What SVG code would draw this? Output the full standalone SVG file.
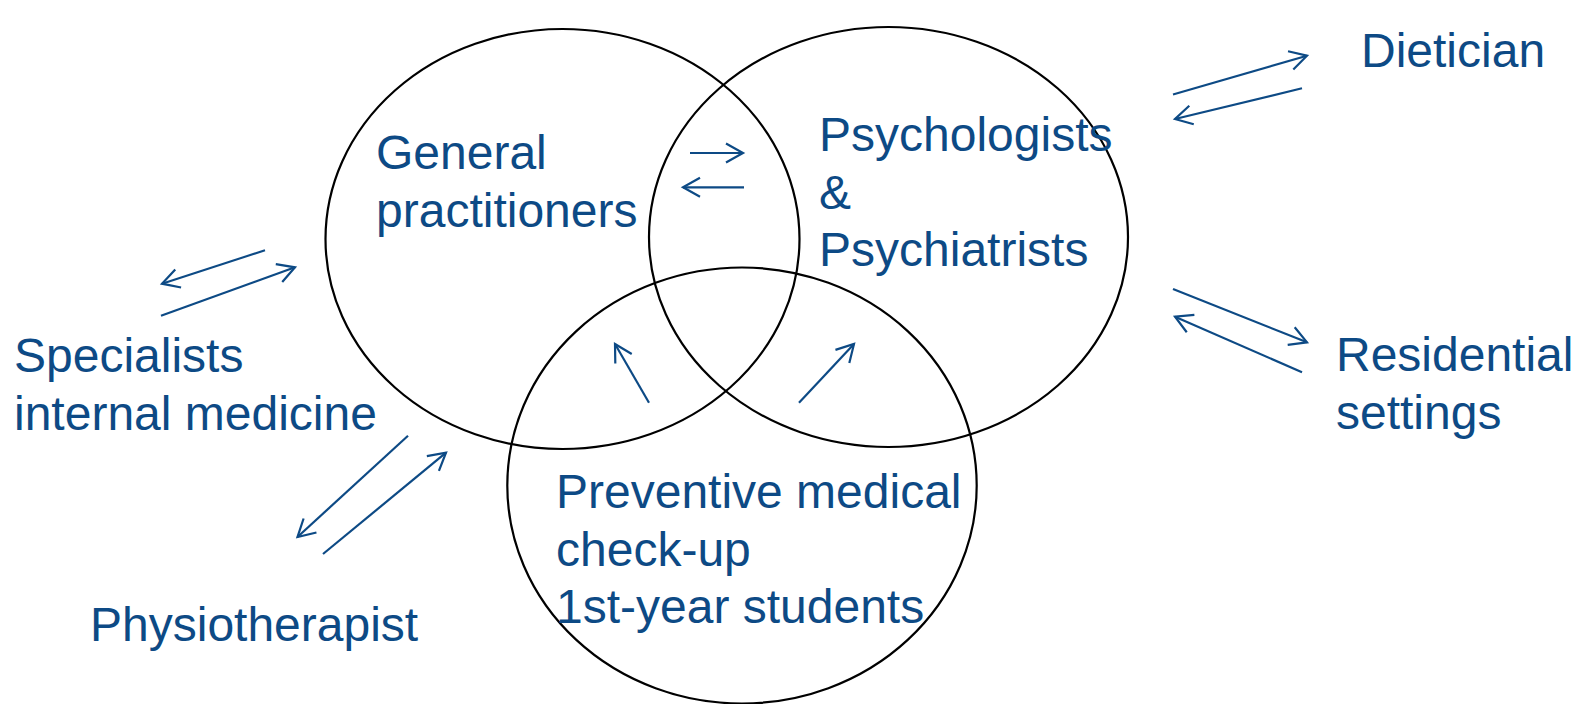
<svg xmlns="http://www.w3.org/2000/svg" width="1578" height="704" viewBox="0 0 1578 704">
<style>
.c{fill:none;stroke:#000;stroke-width:2.2}
.t{font-family:"Liberation Sans",Arial,sans-serif;font-size:48px;fill:#0D4A85}
.a{fill:none;stroke:#0D4A85;stroke-width:2.2;marker-end:url(#ah)}
</style>
<defs>
<marker id="ah" markerUnits="userSpaceOnUse" markerWidth="24" markerHeight="26" refX="0" refY="0" orient="auto" viewBox="-21 -13 24 26">
<path d="M-17,-9.5 L0,0 L-17,9.5" fill="none" stroke="#0D4A85" stroke-width="2.2"/>
</marker>
</defs>
<rect width="1578" height="704" fill="#fff"/>
<g id="gp">
<ellipse class="c" cx="562.5" cy="239" rx="237" ry="210"/>
<text class="t" x="376" y="169">General</text>
<text class="t" x="376" y="227">practitioners</text>
</g>
<g id="psy">
<ellipse class="c" cx="888.5" cy="237" rx="239.5" ry="210"/>
<text class="t" x="819" y="151">Psychologists</text>
<text class="t" x="819" y="208.5">&amp;</text>
<text class="t" x="819" y="266">Psychiatrists</text>
</g>
<g id="prev">
<ellipse class="c" cx="742" cy="485.5" rx="234.7" ry="218"/>
<text class="t" x="556" y="508">Preventive medical</text>
<text class="t" x="556" y="566">check-up</text>
<text class="t" x="556" y="623">1st-year students</text>
</g>
<g id="diet"><text class="t" x="1361" y="67">Dietician</text></g>
<g id="res">
<text class="t" x="1336" y="371">Residential</text>
<text class="t" x="1336" y="429">settings</text>
</g>
<g id="spec">
<text class="t" x="14" y="372">Specialists</text>
<text class="t" x="14" y="430">internal medicine</text>
</g>
<g id="phys"><text class="t" x="90" y="641">Physiotherapist</text></g>
<g id="connectors">
<line class="a" x1="1173" y1="94.5" x2="1307" y2="55.7"/>
<line class="a" x1="1302" y1="88.3" x2="1175" y2="119"/>
<line class="a" x1="690" y1="153" x2="743" y2="153"/>
<line class="a" x1="744" y1="187.3" x2="683" y2="187.3"/>
<line class="a" x1="265" y1="250.3" x2="162" y2="283.7"/>
<line class="a" x1="161" y1="315.7" x2="295" y2="267.3"/>
<line class="a" x1="408" y1="435.7" x2="297.5" y2="537"/>
<line class="a" x1="323" y1="554" x2="446" y2="452.7"/>
<line class="a" x1="649" y1="402.7" x2="615" y2="344"/>
<line class="a" x1="799" y1="402.7" x2="854" y2="344"/>
<line class="a" x1="1173" y1="289" x2="1307" y2="342.3"/>
<line class="a" x1="1302" y1="372.3" x2="1175" y2="316.7"/>
</g>
</svg>
